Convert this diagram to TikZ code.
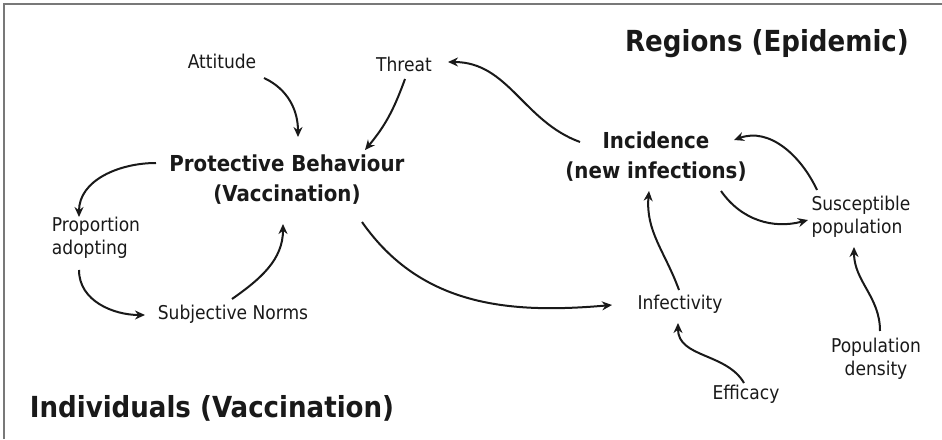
\documentclass[tikz,border=0pt]{standalone}
\usepackage{fontspec}
\setmainfont{DejaVu Sans Condensed}
\usepackage{tikz}
\usetikzlibrary{arrows.meta, calc}
\definecolor{framegray}{RGB}{120,120,120}
\definecolor{inkdark}{RGB}{25,25,25}
\tikzset{
  factor/.style={font=\fontsize{19}{23}\selectfont, text=inkdark,
    align=center, inner sep=2pt},
  keyfactor/.style={font=\bfseries\fontsize{22}{30}\selectfont, text=inkdark,
    align=center, inner sep=2pt},
  scalehead/.style={font=\bfseries\fontsize{29}{32}\selectfont, text=inkdark,
    inner sep=2pt},
  link/.style={-{Stealth[length=10pt,width=9pt]}, line width=2pt, color=inkdark}
}
\begin{document}
\begin{tikzpicture}[x=1pt, y=1pt]
  \useasboundingbox (0,0) rectangle (942,439);
  \draw[framegray, line width=1.6pt] (4,0) |- (942,435);

  % headings of the two levels
  \node[scalehead] (regions) at (767,395) {Regions (Epidemic)};
  \node[scalehead] (indiv) at (212,31) {Individuals (Vaccination)};

  % individual level
  \node[factor] (att) at (222,378) {Attitude};
  \node[factor] (threat) at (404,375) {Threat};
  \node[keyfactor] (prot) at (287,259) {Protective Behaviour\\(Vaccination)};
  \node[factor, align=left] (prop) at (96,201) {Proportion\\adopting};
  \node[factor] (subj) at (233,125) {Subjective Norms};

  % regional level
  \node[keyfactor] (inc) at (656,282) {Incidence\\(new infections)};
  \node[factor, align=left] (susc) at (861,222) {Susceptible\\population};
  \node[factor] (infect) at (680,135) {Infectivity};
  \node[factor] (eff) at (746,45) {Efficacy};
  \node[factor] (popd) at (876,80) {Population\\density};

  % links
  \draw[link] ($(att)+(42,-17)$) to[out=-25, in=90] ($(prot)+(11,43)$);
  \draw[link] ($(threat)+(1,-15)$) to[out=-110, in=50] ($(prot)+(78,30)$);
  \draw[link] ($(prot)+(-131,17)$) to[out=180, in=90] ($(prop)+(-17,21)$);
  \draw[link] ($(prop)+(-17,-32)$) to[out=-90, in=180] ($(subj)+(-88,-1)$);
  \draw[link] ($(subj)+(-1,15)$) to[out=35, in=-90] ($(prot)+(-4,-44)$);
  \draw[link] ($(prot)+(75,-42)$) to[out=-55, in=185] ($(infect)+(-68,-1)$);
  \draw[link] ($(inc)+(-76,15)$) to[out=160, in=0] ($(threat)+(44,2)$);
  \draw[link] ($(inc)+(65,-34)$) to[out=-55, in=195] ($(susc)+(-53,-3)$);
  \draw[link] ($(susc)+(-44,27)$) to[out=115, in=20] ($(inc)+(78,17)$);
  \draw[link] ($(infect)+(-1,14)$) to[out=110, in=-95] ($(inc)+(-7,-34)$);
  \draw[link] ($(eff)+(-2,11)$) to[out=120, in=-90] ($(infect)+(-2,-19)$);
  \draw[link] ($(popd)+(4,28)$) to[out=90, in=-90] ($(susc)+(-7,-30)$);
\end{tikzpicture}
\end{document}
